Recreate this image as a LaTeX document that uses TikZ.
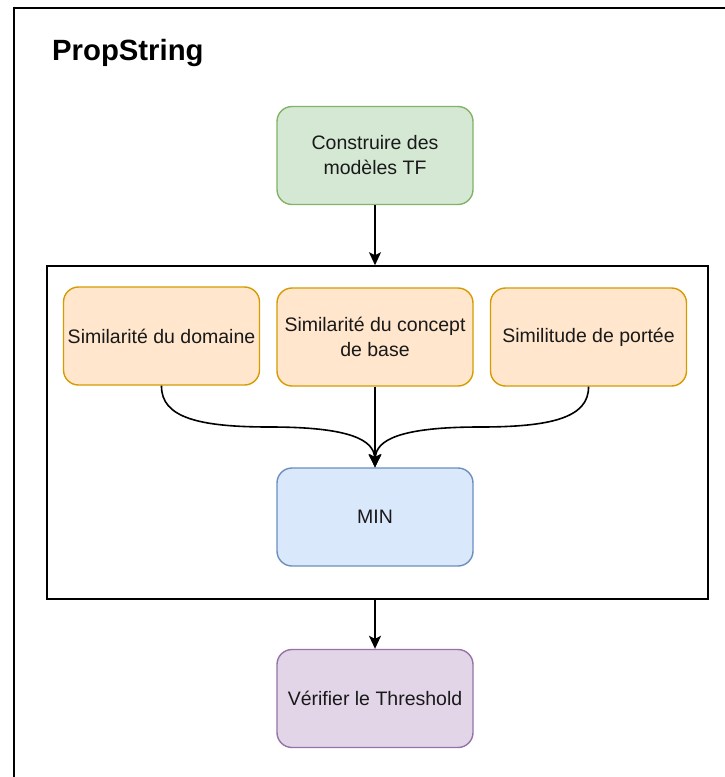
\documentclass[tikz,border=0pt]{standalone}
\usepackage{fontspec}
\setmainfont{Liberation Sans}
\usetikzlibrary{arrows.meta}
\definecolor{gfill}{HTML}{D5E8D4}\definecolor{gline}{HTML}{82B366}
\definecolor{ofill}{HTML}{FFE6CC}\definecolor{oline}{HTML}{D79B00}
\definecolor{bfill}{HTML}{DAE8FC}\definecolor{bline}{HTML}{6C8EBF}
\definecolor{pfill}{HTML}{E1D5E7}\definecolor{pline}{HTML}{9673A6}
\tikzset{
  stepbox/.style={rectangle, rounded corners=15pt, minimum width=196pt, minimum height=98pt,
    inner sep=0pt, line width=1.4pt, align=center, font=\fontsize{19.5}{25}\selectfont, text=black!90},
  greenbox/.style={stepbox, fill=gfill, draw=gline},
  orangebox/.style={stepbox, fill=ofill, draw=oline},
  bluebox/.style={stepbox, fill=bfill, draw=bline},
  purplebox/.style={stepbox, fill=pfill, draw=pline},
  conn/.style={line width=1.6pt, -{Stealth[length=13pt,width=12pt,inset=3pt]}},
}
\begin{document}
\begin{tikzpicture}[x=1pt,y=-1pt]
\useasboundingbox (0,0) rectangle (725,777);
\fill[white] (0,0) rectangle (725,777);
% outer frame
\draw[line width=2pt] (14,7.5) -- (726,7.5);
\draw[line width=2pt] (14,6.5) -- (14,778);
\node[anchor=base west, font=\fontsize{29.3}{32}\selectfont\bfseries, inner sep=0pt] (title) at (52,60) {PropString};
% container
\node[draw, line width=1.5pt, minimum width=661pt, minimum height=333pt, inner sep=0pt] (cont) at (377.5,432.5) {};
% boxes
\node[greenbox] (tf) at (375,155.5) {Construire des\\modèles TF};
\node[orangebox] (s1) at (161.5,336) {Similarité du domaine};
\node[orangebox] (s2) at (375,337) {Similarité du concept\\de base};
\node[orangebox] (s3) at (588.5,337) {Similitude de portée};
\node[bluebox] (min) at (375,517) {MIN};
\node[purplebox] (chk) at (375,698.5) {Vérifier le Threshold};
% connectors
\draw[conn] (tf.south) -- (tf.south |- cont.north);
\draw[conn] (s2.south) -- (min.north);
\draw[conn] (s1.south) .. controls (161,418) and (200,427) .. (270,427) .. controls (350,427) and (374,440) .. (min.north);
\draw[conn] (s3.south) .. controls (589,418) and (550,427) .. (480,427) .. controls (400,427) and (376,440) .. (min.north);
\draw[conn] (chk.north |- cont.south) -- (chk.north);
\end{tikzpicture}
\end{document}
